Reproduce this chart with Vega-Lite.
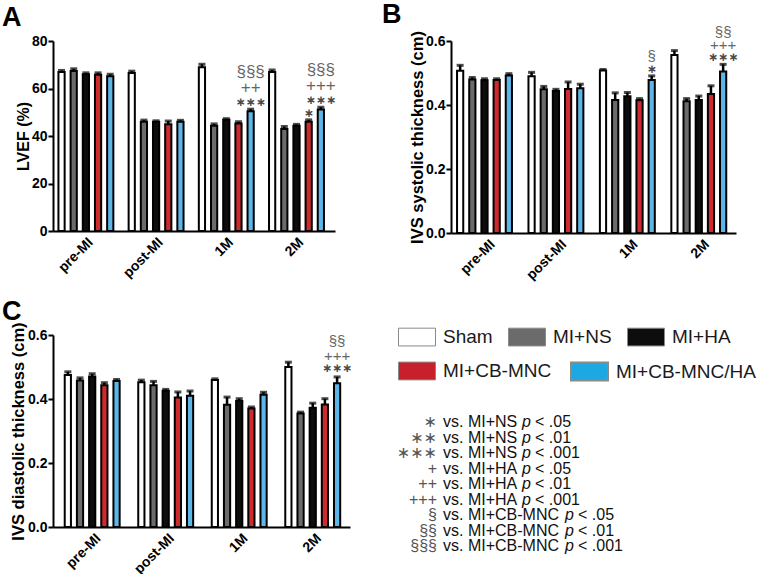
{
  "$schema": "https://vega.github.io/schema/vega-lite/v6.json",
  "background": "white",
  "padding": {"left": 2, "top": 1, "right": 2, "bottom": 2},
  "config": {
    "font": "Liberation Sans",
    "view": {"stroke": null},
    "axis": {"labelFont": "Liberation Sans", "labelFontWeight": "bold", "labelFontSize": 14, "labelColor": "black", "titleFont": "Liberation Sans", "titleFontWeight": "bold", "titleFontSize": 16.5, "titleColor": "black", "domainColor": "black", "domainWidth": 2, "tickColor": "black", "tickWidth": 2, "tickSize": 5, "grid": false},
    "axisX": {"labelAngle": -45, "ticks": false, "title": null, "labelPadding": 4},
    "axisY": {"labelPadding": 1, "titlePadding": 0},
    "title": {"fontSize": 27, "fontWeight": "bold", "font": "Liberation Sans", "anchor": "start", "frame": "group", "color": "black"},
    "legend": {"title": null, "labelFontSize": 19, "labelFont": "Liberation Sans", "labelColor": "#1a1a1a", "labelOffset": 7, "symbolType": "M-1,-0.48H1V0.48H-1Z", "symbolSize": 1369, "symbolStrokeColor": "#8a8a8a", "symbolStrokeWidth": 1, "symbolOpacity": 1, "direction": "horizontal", "orient": "none"}
  },
  "datasets": {
    "bars": [
      {"panel": "A", "time": "pre-MI", "group": "Sham", "v": 67, "e": 0.6, "star": null, "mid": null, "top": null},
      {"panel": "A", "time": "pre-MI", "group": "MI+NS", "v": 67.4, "e": 0.9, "star": null, "mid": null, "top": null},
      {"panel": "A", "time": "pre-MI", "group": "MI+HA", "v": 66, "e": 0.6, "star": null, "mid": null, "top": null},
      {"panel": "A", "time": "pre-MI", "group": "MI+CB-MNC", "v": 65.8, "e": 0.8, "star": null, "mid": null, "top": null},
      {"panel": "A", "time": "pre-MI", "group": "MI+CB-MNC/HA", "v": 65.2, "e": 0.8, "star": null, "mid": null, "top": null},
      {"panel": "A", "time": "post-MI", "group": "Sham", "v": 66.5, "e": 0.8, "star": null, "mid": null, "top": null},
      {"panel": "A", "time": "post-MI", "group": "MI+NS", "v": 46, "e": 0.7, "star": null, "mid": null, "top": null},
      {"panel": "A", "time": "post-MI", "group": "MI+HA", "v": 46, "e": 0.4, "star": null, "mid": null, "top": null},
      {"panel": "A", "time": "post-MI", "group": "MI+CB-MNC", "v": 45, "e": 1.3, "star": null, "mid": null, "top": null},
      {"panel": "A", "time": "post-MI", "group": "MI+CB-MNC/HA", "v": 46, "e": 0.6, "star": null, "mid": null, "top": null},
      {"panel": "A", "time": "1M", "group": "Sham", "v": 69, "e": 1.2, "star": null, "mid": null, "top": null},
      {"panel": "A", "time": "1M", "group": "MI+NS", "v": 44.3, "e": 0.8, "star": null, "mid": null, "top": null},
      {"panel": "A", "time": "1M", "group": "MI+HA", "v": 46.8, "e": 0.5, "star": null, "mid": null, "top": null},
      {"panel": "A", "time": "1M", "group": "MI+CB-MNC", "v": 45.3, "e": 0.7, "star": null, "mid": null, "top": null},
      {"panel": "A", "time": "1M", "group": "MI+CB-MNC/HA", "v": 50.4, "e": 0.9, "star": "∗∗∗", "mid": "++", "top": "§§§"},
      {"panel": "A", "time": "2M", "group": "Sham", "v": 67, "e": 0.8, "star": null, "mid": null, "top": null},
      {"panel": "A", "time": "2M", "group": "MI+NS", "v": 43, "e": 1, "star": null, "mid": null, "top": null},
      {"panel": "A", "time": "2M", "group": "MI+HA", "v": 44.3, "e": 0.6, "star": null, "mid": null, "top": null},
      {"panel": "A", "time": "2M", "group": "MI+CB-MNC", "v": 46, "e": 0.8, "star": "∗", "mid": null, "top": null},
      {"panel": "A", "time": "2M", "group": "MI+CB-MNC/HA", "v": 51.2, "e": 0.9, "star": "∗∗∗", "mid": "+++", "top": "§§§"},
      {"panel": "B", "time": "pre-MI", "group": "Sham", "v": 0.507, "e": 0.017, "star": null, "mid": null, "top": null},
      {"panel": "B", "time": "pre-MI", "group": "MI+NS", "v": 0.48, "e": 0.006, "star": null, "mid": null, "top": null},
      {"panel": "B", "time": "pre-MI", "group": "MI+HA", "v": 0.477, "e": 0.005, "star": null, "mid": null, "top": null},
      {"panel": "B", "time": "pre-MI", "group": "MI+CB-MNC", "v": 0.478, "e": 0.004, "star": null, "mid": null, "top": null},
      {"panel": "B", "time": "pre-MI", "group": "MI+CB-MNC/HA", "v": 0.492, "e": 0.006, "star": null, "mid": null, "top": null},
      {"panel": "B", "time": "post-MI", "group": "Sham", "v": 0.49, "e": 0.012, "star": null, "mid": null, "top": null},
      {"panel": "B", "time": "post-MI", "group": "MI+NS", "v": 0.449, "e": 0.009, "star": null, "mid": null, "top": null},
      {"panel": "B", "time": "post-MI", "group": "MI+HA", "v": 0.444, "e": 0.005, "star": null, "mid": null, "top": null},
      {"panel": "B", "time": "post-MI", "group": "MI+CB-MNC", "v": 0.45, "e": 0.022, "star": null, "mid": null, "top": null},
      {"panel": "B", "time": "post-MI", "group": "MI+CB-MNC/HA", "v": 0.452, "e": 0.013, "star": null, "mid": null, "top": null},
      {"panel": "B", "time": "1M", "group": "Sham", "v": 0.508, "e": 0.003, "star": null, "mid": null, "top": null},
      {"panel": "B", "time": "1M", "group": "MI+NS", "v": 0.416, "e": 0.022, "star": null, "mid": null, "top": null},
      {"panel": "B", "time": "1M", "group": "MI+HA", "v": 0.427, "e": 0.012, "star": null, "mid": null, "top": null},
      {"panel": "B", "time": "1M", "group": "MI+CB-MNC", "v": 0.415, "e": 0.005, "star": null, "mid": null, "top": null},
      {"panel": "B", "time": "1M", "group": "MI+CB-MNC/HA", "v": 0.478, "e": 0.013, "star": "∗", "mid": "§", "top": null},
      {"panel": "B", "time": "2M", "group": "Sham", "v": 0.556, "e": 0.014, "star": null, "mid": null, "top": null},
      {"panel": "B", "time": "2M", "group": "MI+NS", "v": 0.412, "e": 0.008, "star": null, "mid": null, "top": null},
      {"panel": "B", "time": "2M", "group": "MI+HA", "v": 0.416, "e": 0.012, "star": null, "mid": null, "top": null},
      {"panel": "B", "time": "2M", "group": "MI+CB-MNC", "v": 0.434, "e": 0.026, "star": null, "mid": null, "top": null},
      {"panel": "B", "time": "2M", "group": "MI+CB-MNC/HA", "v": 0.505, "e": 0.022, "star": "∗∗∗", "mid": "+++", "top": "§§"},
      {"panel": "C", "time": "pre-MI", "group": "Sham", "v": 0.475, "e": 0.01, "star": null, "mid": null, "top": null},
      {"panel": "C", "time": "pre-MI", "group": "MI+NS", "v": 0.458, "e": 0.008, "star": null, "mid": null, "top": null},
      {"panel": "C", "time": "pre-MI", "group": "MI+HA", "v": 0.47, "e": 0.009, "star": null, "mid": null, "top": null},
      {"panel": "C", "time": "pre-MI", "group": "MI+CB-MNC", "v": 0.443, "e": 0.008, "star": null, "mid": null, "top": null},
      {"panel": "C", "time": "pre-MI", "group": "MI+CB-MNC/HA", "v": 0.456, "e": 0.005, "star": null, "mid": null, "top": null},
      {"panel": "C", "time": "post-MI", "group": "Sham", "v": 0.452, "e": 0.007, "star": null, "mid": null, "top": null},
      {"panel": "C", "time": "post-MI", "group": "MI+NS", "v": 0.443, "e": 0.012, "star": null, "mid": null, "top": null},
      {"panel": "C", "time": "post-MI", "group": "MI+HA", "v": 0.426, "e": 0.004, "star": null, "mid": null, "top": null},
      {"panel": "C", "time": "post-MI", "group": "MI+CB-MNC", "v": 0.405, "e": 0.017, "star": null, "mid": null, "top": null},
      {"panel": "C", "time": "post-MI", "group": "MI+CB-MNC/HA", "v": 0.41, "e": 0.015, "star": null, "mid": null, "top": null},
      {"panel": "C", "time": "1M", "group": "Sham", "v": 0.459, "e": 0.004, "star": null, "mid": null, "top": null},
      {"panel": "C", "time": "1M", "group": "MI+NS", "v": 0.382, "e": 0.024, "star": null, "mid": null, "top": null},
      {"panel": "C", "time": "1M", "group": "MI+HA", "v": 0.394, "e": 0.007, "star": null, "mid": null, "top": null},
      {"panel": "C", "time": "1M", "group": "MI+CB-MNC", "v": 0.37, "e": 0.005, "star": null, "mid": null, "top": null},
      {"panel": "C", "time": "1M", "group": "MI+CB-MNC/HA", "v": 0.413, "e": 0.008, "star": null, "mid": null, "top": null},
      {"panel": "C", "time": "2M", "group": "Sham", "v": 0.5, "e": 0.015, "star": null, "mid": null, "top": null},
      {"panel": "C", "time": "2M", "group": "MI+NS", "v": 0.355, "e": 0.004, "star": null, "mid": null, "top": null},
      {"panel": "C", "time": "2M", "group": "MI+HA", "v": 0.373, "e": 0.014, "star": null, "mid": null, "top": null},
      {"panel": "C", "time": "2M", "group": "MI+CB-MNC", "v": 0.383, "e": 0.018, "star": null, "mid": null, "top": null},
      {"panel": "C", "time": "2M", "group": "MI+CB-MNC/HA", "v": 0.449, "e": 0.02, "star": "∗∗∗", "mid": "+++", "top": "§§"}
    ],
    "notes": [
      {"k": 1, "sym": "∗", "cmp": "vs. MI+NS", "thr": "< .05", "g": "NS"},
      {"k": 2, "sym": "∗∗", "cmp": "vs. MI+NS", "thr": "< .01", "g": "NS"},
      {"k": 3, "sym": "∗∗∗", "cmp": "vs. MI+NS", "thr": "< .001", "g": "NS"},
      {"k": 4, "sym": "+", "cmp": "vs. MI+HA", "thr": "< .05", "g": "HA"},
      {"k": 5, "sym": "++", "cmp": "vs. MI+HA", "thr": "< .01", "g": "HA"},
      {"k": 6, "sym": "+++", "cmp": "vs. MI+HA", "thr": "< .001", "g": "HA"},
      {"k": 7, "sym": "§", "cmp": "vs. MI+CB-MNC", "thr": "< .05", "g": "CB"},
      {"k": 8, "sym": "§§", "cmp": "vs. MI+CB-MNC", "thr": "< .01", "g": "CB"},
      {"k": 9, "sym": "§§§", "cmp": "vs. MI+CB-MNC", "thr": "< .001", "g": "CB"}
    ]
  },
  "resolve": {"scale": {"color": "shared", "opacity": "shared", "strokeWidth": "shared"}, "legend": {"color": "shared", "opacity": "shared", "strokeWidth": "shared"}},
  "columns": 1,
  "align": "none",
  "spacing": 14,
  "concat": [
    {
      "spacing": 46,
      "resolve": {"scale": {"color": "shared", "opacity": "shared", "strokeWidth": "shared"}, "legend": {"color": "shared", "opacity": "shared", "strokeWidth": "shared"}},
      "hconcat": [
        {
          "title": {"text": "A", "dx": -51, "offset": 2},
          "width": 282, "height": 190,
          "data": {"name": "bars"},
          "transform": [{"filter": "datum.panel === 'A'"}, {"calculate": "datum.v + datum.e", "as": "hi"}],
          "encoding": {
            "x": {"field": "time", "type": "nominal", "sort": ["pre-MI", "post-MI", "1M", "2M"], "scale": {"paddingInner": 0.183, "paddingOuter": 0.1, "align": 0.3}},
            "xOffset": {"field": "group", "type": "nominal", "sort": ["Sham", "MI+NS", "MI+HA", "MI+CB-MNC", "MI+CB-MNC/HA"], "scale": {"paddingInner": 0.49, "paddingOuter": 0.1}}
          },
          "layer": [
            {
              "mark": {"type": "bar", "stroke": "black", "strokeWidth": 2},
              "encoding": {
                "y": {"field": "v", "type": "quantitative", "title": "LVEF (%)", "scale": {"domain": [0, 80], "nice": false}, "axis": {"values": [0, 20, 40, 60, 80], "titleFontSize": 16}},
                "color": {"field": "group", "type": "nominal", "sort": ["Sham", "MI+NS", "MI+HA", "MI+CB-MNC", "MI+CB-MNC/HA"],
                  "scale": {"domain": ["Sham", "MI+NS", "MI+HA", "MI+CB-MNC", "MI+CB-MNC/HA"], "range": ["#ffffff", "#6b6b6b", "#0d0d0d", "#cf2a2e", "#5db6e8"]},
                  "legend": {"values": ["Sham", "MI+NS", "MI+HA"], "legendX": 345, "legendY": 277, "columnPadding": 13}
                },
                "opacity": {"field": "group", "type": "nominal",
                  "scale": {"domain": ["MI+CB-MNC", "MI+CB-MNC/HA", "Sham", "MI+NS", "MI+HA"], "range": [1, 1, 1, 1, 1]},
                  "legend": {"values": ["MI+CB-MNC"], "legendX": 345, "legendY": 311, "symbolFillColor": "#c8202b"}
                },
                "strokeWidth": {"field": "group", "type": "ordinal",
                  "scale": {"domain": ["MI+CB-MNC/HA", "MI+CB-MNC", "Sham", "MI+NS", "MI+HA"], "range": [2, 2]},
                  "legend": {"values": ["MI+CB-MNC/HA"], "legendX": 517, "legendY": 311, "symbolFillColor": "#1ea8e2"}
                }
              }
            },
            {"mark": {"type": "rule", "strokeWidth": 2.5, "color": "black"}, "encoding": {"y": {"field": "v", "type": "quantitative", "title": "LVEF (%)"}, "y2": {"field": "hi"}}},
            {"mark": {"type": "tick", "thickness": 3, "size": 7, "color": "black"}, "encoding": {"y": {"field": "hi", "type": "quantitative", "title": "LVEF (%)"}}},
            {"transform": [{"filter": "datum.star"}], "mark": {"type": "text", "baseline": "bottom", "fontSize": 12, "fontWeight": "bold", "font": "DejaVu Sans", "color": "#4a4a4a"}, "encoding": {"y": {"field": "hi", "type": "quantitative", "title": "LVEF (%)"}, "text": {"field": "star"}}},
            {"transform": [{"filter": "datum.mid"}], "mark": {"type": "text", "baseline": "alphabetic", "fontSize": 17, "font": "Liberation Sans", "dy": -16, "color": "#666666"}, "encoding": {"y": {"field": "hi", "type": "quantitative", "title": "LVEF (%)"}, "text": {"field": "mid"}}},
            {"transform": [{"filter": "datum.top"}], "mark": {"type": "text", "baseline": "alphabetic", "fontSize": 17, "font": "Liberation Sans", "dy": -32.5, "color": "#666666"}, "encoding": {"y": {"field": "hi", "type": "quantitative", "title": "LVEF (%)"}, "text": {"field": "top"}}}
          ]
        },
        {
          "title": {"text": "B", "dx": -69, "offset": -4},
          "width": 285, "height": 192,
          "data": {"name": "bars"},
          "transform": [{"filter": "datum.panel === 'B'"}, {"calculate": "datum.v + datum.e", "as": "hi"}],
          "encoding": {
            "x": {"field": "time", "type": "nominal", "sort": ["pre-MI", "post-MI", "1M", "2M"], "scale": {"paddingInner": 0.1, "paddingOuter": 0.045, "align": 0.75}},
            "xOffset": {"field": "group", "type": "nominal", "sort": ["Sham", "MI+NS", "MI+HA", "MI+CB-MNC", "MI+CB-MNC/HA"], "scale": {"paddingInner": 0.54, "paddingOuter": 0.12}}
          },
          "layer": [
            {
              "mark": {"type": "bar", "stroke": "black", "strokeWidth": 2},
              "encoding": {
                "y": {"field": "v", "type": "quantitative", "title": "IVS systolic thickness (cm)", "scale": {"domain": [0, 0.6], "nice": false}, "axis": {"values": [0, 0.2, 0.4, 0.6], "format": ".1f"}},
                "color": {"field": "group", "type": "nominal", "sort": ["Sham", "MI+NS", "MI+HA", "MI+CB-MNC", "MI+CB-MNC/HA"],
                  "scale": {"domain": ["Sham", "MI+NS", "MI+HA", "MI+CB-MNC", "MI+CB-MNC/HA"], "range": ["#ffffff", "#6b6b6b", "#0d0d0d", "#cf2a2e", "#5db6e8"]}}
              }
            },
            {"mark": {"type": "rule", "strokeWidth": 2.5, "color": "black"}, "encoding": {"y": {"field": "v", "type": "quantitative", "title": "IVS systolic thickness (cm)"}, "y2": {"field": "hi"}}},
            {"mark": {"type": "tick", "thickness": 3, "size": 7, "color": "black"}, "encoding": {"y": {"field": "hi", "type": "quantitative", "title": "IVS systolic thickness (cm)"}}},
            {"transform": [{"filter": "datum.star"}], "mark": {"type": "text", "baseline": "bottom", "fontSize": 12, "fontWeight": "bold", "font": "DejaVu Sans", "color": "#4a4a4a"}, "encoding": {"y": {"field": "hi", "type": "quantitative", "title": "IVS systolic thickness (cm)"}, "text": {"field": "star"}}},
            {"transform": [{"filter": "datum.mid"}], "mark": {"type": "text", "baseline": "alphabetic", "fontSize": 15, "font": "Liberation Sans", "dy": -14.5, "color": "#666666"}, "encoding": {"y": {"field": "hi", "type": "quantitative", "title": "IVS systolic thickness (cm)"}, "text": {"field": "mid"}}},
            {"transform": [{"filter": "datum.top"}], "mark": {"type": "text", "baseline": "alphabetic", "fontSize": 15, "font": "Liberation Sans", "dy": -27, "color": "#666666"}, "encoding": {"y": {"field": "hi", "type": "quantitative", "title": "IVS systolic thickness (cm)"}, "text": {"field": "top"}}}
          ]
        }
      ]
    },
    {
      "spacing": 39,
      "resolve": {"scale": {"color": "shared", "opacity": "shared", "strokeWidth": "shared"}, "legend": {"color": "shared", "opacity": "shared", "strokeWidth": "shared"}},
      "hconcat": [
        {
          "title": {"text": "C", "dx": -51, "offset": -4},
          "width": 297, "height": 192,
          "data": {"name": "bars"},
          "transform": [{"filter": "datum.panel === 'C'"}, {"calculate": "datum.v + datum.e", "as": "hi"}],
          "encoding": {
            "x": {"field": "time", "type": "nominal", "sort": ["pre-MI", "post-MI", "1M", "2M"], "scale": {"paddingInner": 0.18, "paddingOuter": 0.11, "align": 0.65}},
            "xOffset": {"field": "group", "type": "nominal", "sort": ["Sham", "MI+NS", "MI+HA", "MI+CB-MNC", "MI+CB-MNC/HA"], "scale": {"paddingInner": 0.5, "paddingOuter": 0.11}}
          },
          "layer": [
            {
              "mark": {"type": "bar", "stroke": "black", "strokeWidth": 2},
              "encoding": {
                "y": {"field": "v", "type": "quantitative", "title": "IVS diastolic thickness (cm)", "scale": {"domain": [0, 0.6], "nice": false}, "axis": {"values": [0, 0.2, 0.4, 0.6], "format": ".1f", "titlePadding": 1}},
                "color": {"field": "group", "type": "nominal", "sort": ["Sham", "MI+NS", "MI+HA", "MI+CB-MNC", "MI+CB-MNC/HA"],
                  "scale": {"domain": ["Sham", "MI+NS", "MI+HA", "MI+CB-MNC", "MI+CB-MNC/HA"], "range": ["#ffffff", "#6b6b6b", "#0d0d0d", "#cf2a2e", "#5db6e8"]}}
              }
            },
            {"mark": {"type": "rule", "strokeWidth": 2.5, "color": "black"}, "encoding": {"y": {"field": "v", "type": "quantitative", "title": "IVS diastolic thickness (cm)"}, "y2": {"field": "hi"}}},
            {"mark": {"type": "tick", "thickness": 3, "size": 7, "color": "black"}, "encoding": {"y": {"field": "hi", "type": "quantitative", "title": "IVS diastolic thickness (cm)"}}},
            {"transform": [{"filter": "datum.star"}], "mark": {"type": "text", "baseline": "bottom", "fontSize": 12, "fontWeight": "bold", "font": "DejaVu Sans", "dy": -2, "color": "#4a4a4a"}, "encoding": {"y": {"field": "hi", "type": "quantitative", "title": "IVS diastolic thickness (cm)"}, "text": {"field": "star"}}},
            {"transform": [{"filter": "datum.mid"}], "mark": {"type": "text", "baseline": "alphabetic", "fontSize": 15, "font": "Liberation Sans", "dy": -15.5, "color": "#666666"}, "encoding": {"y": {"field": "hi", "type": "quantitative", "title": "IVS diastolic thickness (cm)"}, "text": {"field": "mid"}}},
            {"transform": [{"filter": "datum.top"}], "mark": {"type": "text", "baseline": "alphabetic", "fontSize": 15, "font": "Liberation Sans", "dy": -31, "color": "#666666"}, "encoding": {"y": {"field": "hi", "type": "quantitative", "title": "IVS diastolic thickness (cm)"}, "text": {"field": "top"}}}
          ]
        },
        {
          "width": 340, "height": 225,
          "data": {"name": "notes"},
          "encoding": {
            "y": {"field": "k", "type": "quantitative", "axis": null, "scale": {"domain": [-4.94, 9.58], "reverse": true, "zero": false, "nice": false}}
          },
          "layer": [
            {"mark": {"type": "text", "align": "right", "baseline": "alphabetic", "fontSize": 16, "font": "Liberation Sans, DejaVu Sans", "color": "#555555", "dx": -125}, "encoding": {"text": {"field": "sym"}}},
            {"mark": {"type": "text", "align": "left", "baseline": "alphabetic", "fontSize": 16, "font": "Liberation Sans", "color": "#111111", "dx": -119}, "encoding": {"text": {"field": "cmp"}}},
            {"transform": [{"filter": "datum.g !== 'CB'"}], "mark": {"type": "text", "align": "left", "baseline": "alphabetic", "fontSize": 16, "font": "Liberation Sans", "fontStyle": "italic", "color": "#111111", "dx": -40, "text": "p"}, "encoding": {}},
            {"transform": [{"filter": "datum.g === 'CB'"}], "mark": {"type": "text", "align": "left", "baseline": "alphabetic", "fontSize": 16, "font": "Liberation Sans", "fontStyle": "italic", "color": "#111111", "dx": 3, "text": "p"}, "encoding": {}},
            {"transform": [{"filter": "datum.g !== 'CB'"}], "mark": {"type": "text", "align": "left", "baseline": "alphabetic", "fontSize": 16, "font": "Liberation Sans", "color": "#111111", "dx": -27}, "encoding": {"text": {"field": "thr"}}},
            {"transform": [{"filter": "datum.g === 'CB'"}], "mark": {"type": "text", "align": "left", "baseline": "alphabetic", "fontSize": 16, "font": "Liberation Sans", "color": "#111111", "dx": 16}, "encoding": {"text": {"field": "thr"}}}
          ]
        }
      ]
    }
  ]
}
